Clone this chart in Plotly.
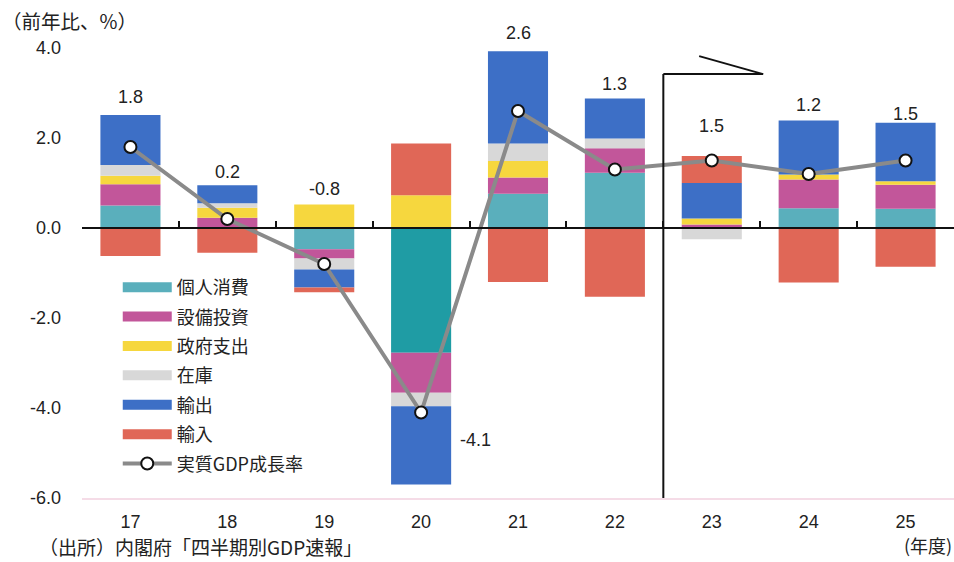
import plotly.graph_objects as go

# Fiscal years (last two digits) and contributions to real GDP growth (pt)
years = [17, 18, 19, 20, 21, 22, 23, 24, 25]
year_labels = ["17", "18", "19", "20", "21", "22", "23", "24", "25"]

consumption = [0.50, 0.00, -0.47, -2.77, 0.76, 1.23, 0.00, 0.44, 0.43]
capex = [0.47, 0.23, -0.21, -0.89, 0.36, 0.54, 0.08, 0.64, 0.53]
government = [0.19, 0.22, 0.52, 0.73, 0.37, 0.00, 0.13, 0.11, 0.08]
inventory = [0.24, 0.10, -0.24, -0.30, 0.39, 0.22, -0.25, 0.00, 0.00]
exports = [1.11, 0.40, -0.40, -1.74, 2.05, 0.89, 0.79, 1.20, 1.30]
imports = [-0.62, -0.55, -0.11, 1.15, -1.20, -1.53, 0.60, -1.21, -0.86]
gdp_growth = [1.8, 0.2, -0.8, -4.1, 2.6, 1.3, 1.5, 1.2, 1.5]

series_names = ["個人消費", "設備投資", "政府支出", "在庫", "輸出", "輸入"]
gdp_name = "実質GDP成長率"
forecast_start = 23

y_ticks = [-6, -4, -2, 0, 2, 4]
y_tick_text = ["-6.0", "-4.0", "-2.0", "0.0", "2.0", "4.0"]

# styling
TEAL = "#5aafbc"
TEAL_DARK = "#1f9ca4"
colors = ["#5aafbc", "#c2569a", "#f6d73e", "#d8d8d8", "#3d6fc6", "#e06757"]
consumption_colors = [TEAL_DARK if y == 20 else TEAL for y in years]
label_yshift = [18, 13, 16, 0, 18, 14, 30, 15, 9]

LATIN = "Liberation Sans, Arial, Noto Sans CJK JP, sans-serif"
CJK = "Noto Sans CJK JP, sans-serif"
TXT = "#222222"
NUM_SIZE = 18

Y_MIN, Y_MAX = -6, 4
X_MIN, X_MAX = years[0] - 0.5, years[-1] + 0.5

fig = go.Figure()

series = [consumption, capex, government, inventory, exports, imports]
for i, (name, vals) in enumerate(zip(series_names, series)):
    col = consumption_colors if i == 0 else colors[i]
    fig.add_trace(go.Bar(
        x=years, y=vals, name=name, width=0.62,
        marker=dict(color=col, line=dict(width=0)),
        showlegend=False, hoverinfo="skip",
    ))
    # legend swatch
    fig.add_trace(go.Scatter(
        x=[None], y=[None], mode="lines", name=name,
        line=dict(color=colors[i], width=10), legendgroup=name,
    ))

# growth line sits on the overlaid axis that also draws the zero line
fig.add_trace(go.Scatter(
    x=years, y=gdp_growth, name=gdp_name, mode="lines+markers",
    xaxis="x2", yaxis="y",
    line=dict(color="#8a8a8a", width=4),
    marker=dict(size=12, color="white", line=dict(color="#111111", width=2)),
    legendgroup=gdp_name, cliponaxis=False,
))

# value labels above the positive stack
annotations = []
for k, (yr, g) in enumerate(zip(years, gdp_growth)):
    top = sum(max(s[k], 0) for s in series)
    if yr == 20:
        annotations.append(dict(
            x=yr, y=g, text=f"{g:.1f}", showarrow=False, xshift=54, yshift=-27,
            font=dict(family=LATIN, size=NUM_SIZE, color=TXT)))
    else:
        annotations.append(dict(
            x=yr, y=top, text=f"{g:.1f}", showarrow=False, yanchor="middle",
            yshift=label_yshift[k], font=dict(family=LATIN, size=NUM_SIZE, color=TXT)))

annotations += [
    dict(xref="paper", yref="paper", x=-0.094, y=1.06, xanchor="left", yanchor="middle",
         text="（前年比、%）", showarrow=False, font=dict(family=CJK, size=19.5, color=TXT)),
    dict(xref="paper", yref="paper", x=-0.052, y=-0.108, xanchor="left", yanchor="middle",
         text="（出所）内閣府「四半期別GDP速報」", showarrow=False,
         font=dict(family=CJK, size=19, color=TXT)),
    dict(xref="paper", yref="paper", x=1.0, y=-0.104, xanchor="right", yanchor="middle",
         text="(年度)", showarrow=False, font=dict(family=CJK, size=18, color=TXT)),
    dict(x=forecast_start, y=4.53, text="予測", showarrow=False,
         font=dict(family=CJK, size=18, color=TXT)),
]

# forecast bracket
fx = forecast_start - 0.5
bracket_top = 3.42
shapes = [
    dict(type="line", x0=fx, x1=fx, y0=Y_MIN, y1=bracket_top, line=dict(color="#111111", width=2)),
    dict(type="line", x0=fx, x1=fx + 1.03, y0=bracket_top, y1=bracket_top,
         line=dict(color="#111111", width=2)),
    dict(type="line", x0=fx + 0.37, x1=fx + 1.03, y0=3.82, y1=bracket_top,
         line=dict(color="#111111", width=2)),
]

zero_pos = (0 - Y_MIN) / (Y_MAX - Y_MIN)

fig.update_layout(
    width=954, height=562,
    margin=dict(l=82, r=0, t=48, b=64),
    paper_bgcolor="white", plot_bgcolor="white",
    barmode="relative",
    font=dict(family=LATIN, size=NUM_SIZE, color=TXT),
    xaxis=dict(
        range=[X_MIN, X_MAX], tickmode="array", tickvals=years, ticktext=year_labels,
        showgrid=False, zeroline=False, showline=True, linecolor="#f5dce7", linewidth=2,
        ticks="outside", ticklen=6, tickcolor="rgba(0,0,0,0)",
        tickfont=dict(family=LATIN, size=NUM_SIZE, color=TXT),
    ),
    xaxis2=dict(
        overlaying="x", anchor="free", position=zero_pos, range=[X_MIN, X_MAX],
        tickmode="array", tickvals=[y - 0.5 for y in years] + [years[-1] + 0.5],
        ticks="inside", ticklen=6, tickwidth=2, tickcolor="#111111",
        showticklabels=False, showgrid=False, zeroline=False,
        showline=True, linecolor="#111111", linewidth=2,
    ),
    yaxis=dict(
        range=[Y_MIN, Y_MAX], tickmode="array", tickvals=y_ticks, ticktext=y_tick_text,
        showgrid=False, zeroline=False, showline=False,
        ticklabelstandoff=20, tickfont=dict(family=LATIN, size=NUM_SIZE, color=TXT),
    ),
    legend=dict(
        x=0.041, y=0.509, xanchor="left", yanchor="top",
        bgcolor="rgba(0,0,0,0)", itemwidth=49, tracegroupgap=3,
        font=dict(family=CJK, size=18, color=TXT),
    ),
    annotations=annotations,
    shapes=shapes,
)

fig.write_html("out.html")
